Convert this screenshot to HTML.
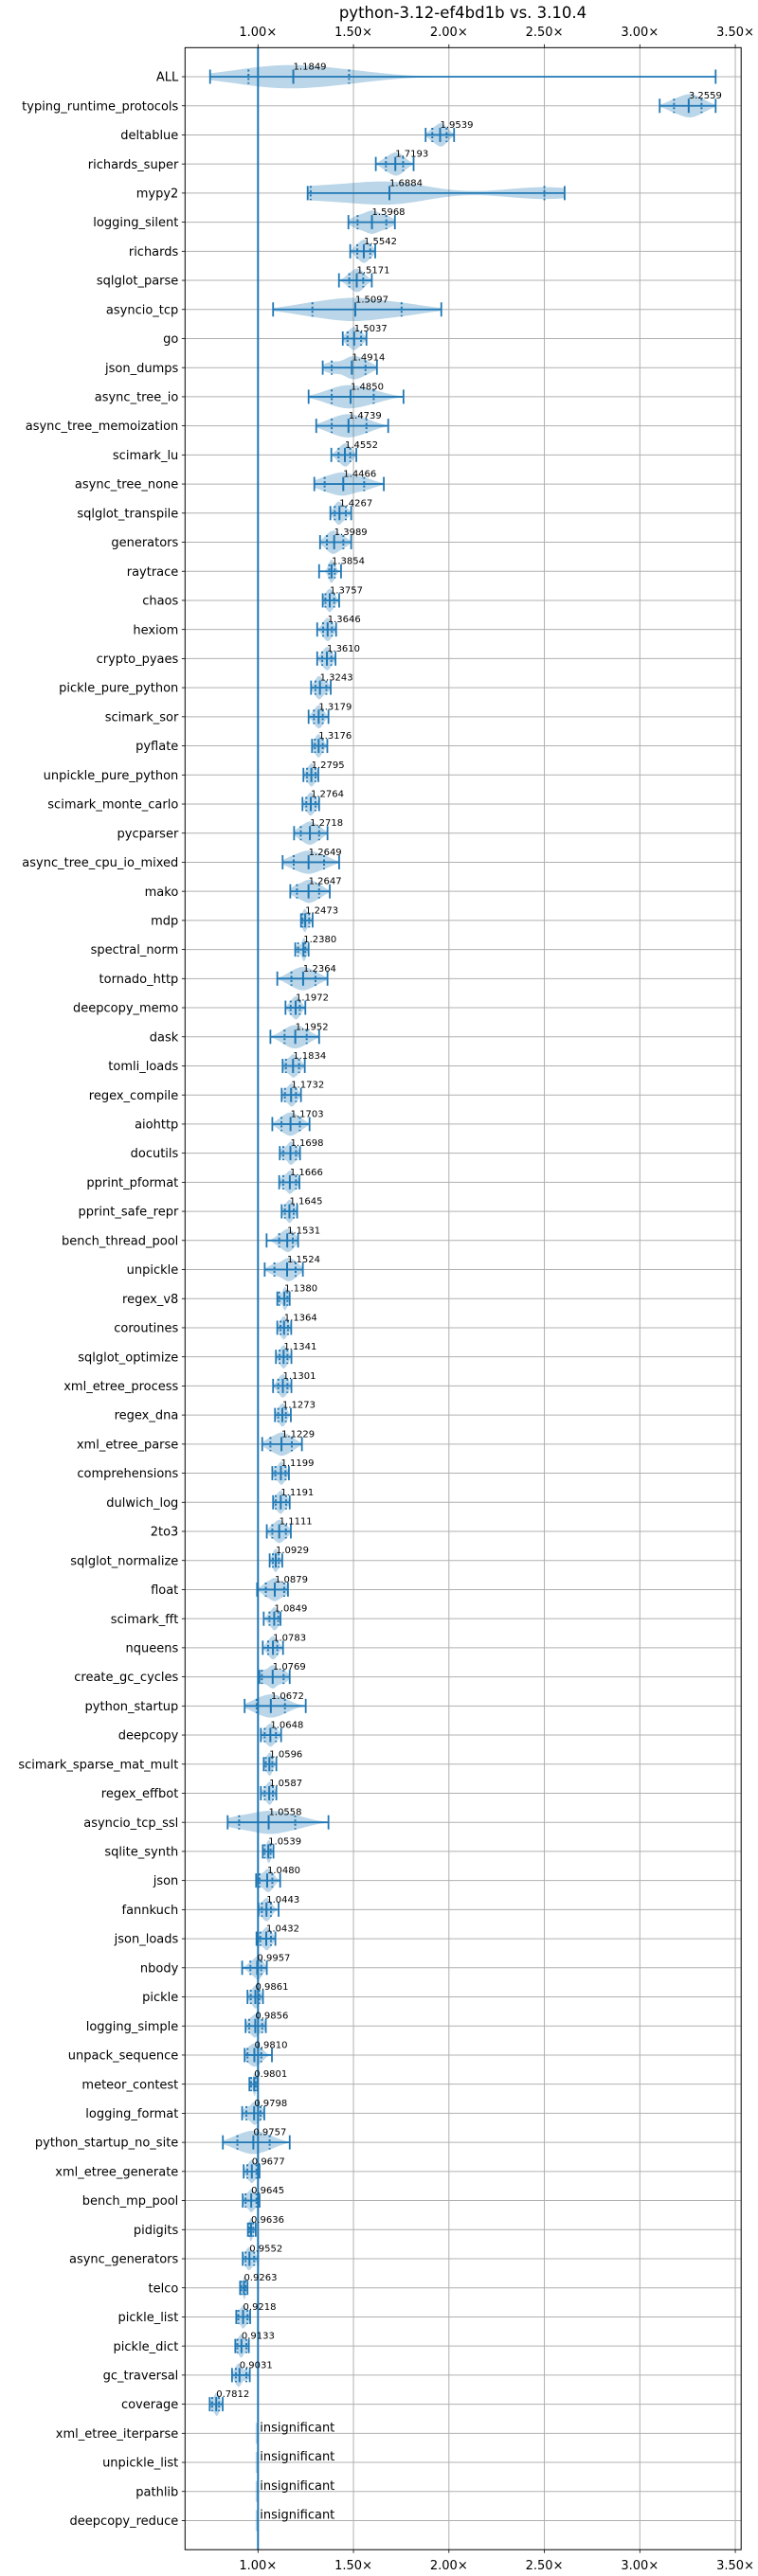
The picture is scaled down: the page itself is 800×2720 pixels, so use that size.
<!DOCTYPE html>
<html><head><meta charset="utf-8"><style>
body{margin:0;background:#fff}
svg{display:block;font-family:"DejaVu Sans","Liberation Sans",sans-serif}
</style></head><body>
<svg id="chart" width="800" height="2720" viewBox="0 0 800 2720" xmlns="http://www.w3.org/2000/svg">
<rect width="800" height="2720" fill="#fff"/>
<text x="488.5" y="19" text-anchor="middle" font-size="16.5" fill="#000">python-3.12-ef4bd1b vs. 3.10.4</text>
<g id="grid"></g><g id="marks"></g><g id="axes"></g>
</svg>
<script>
const names=["ALL","typing_runtime_protocols","deltablue","richards_super","mypy2","logging_silent","richards","sqlglot_parse","asyncio_tcp","go","json_dumps","async_tree_io","async_tree_memoization","scimark_lu","async_tree_none","sqlglot_transpile","generators","raytrace","chaos","hexiom","crypto_pyaes","pickle_pure_python","scimark_sor","pyflate","unpickle_pure_python","scimark_monte_carlo","pycparser","async_tree_cpu_io_mixed","mako","mdp","spectral_norm","tornado_http","deepcopy_memo","dask","tomli_loads","regex_compile","aiohttp","docutils","pprint_pformat","pprint_safe_repr","bench_thread_pool","unpickle","regex_v8","coroutines","sqlglot_optimize","xml_etree_process","regex_dna","xml_etree_parse","comprehensions","dulwich_log","2to3","sqlglot_normalize","float","scimark_fft","nqueens","create_gc_cycles","python_startup","deepcopy","scimark_sparse_mat_mult","regex_effbot","asyncio_tcp_ssl","sqlite_synth","json","fannkuch","json_loads","nbody","pickle","logging_simple","unpack_sequence","meteor_contest","logging_format","python_startup_no_site","xml_etree_generate","bench_mp_pool","pidigits","async_generators","telco","pickle_list","pickle_dict","gc_traversal","coverage","xml_etree_iterparse","unpickle_list","pathlib","deepcopy_reduce"];
const medians=[1.1849,3.2559,1.9539,1.7193,1.6884,1.5968,1.5542,1.5171,1.5097,1.5037,1.4914,1.4850,1.4739,1.4552,1.4466,1.4267,1.3989,1.3854,1.3757,1.3646,1.3610,1.3243,1.3179,1.3176,1.2795,1.2764,1.2718,1.2649,1.2647,1.2473,1.2380,1.2364,1.1972,1.1952,1.1834,1.1732,1.1703,1.1698,1.1666,1.1645,1.1531,1.1524,1.1380,1.1364,1.1341,1.1301,1.1273,1.1229,1.1199,1.1191,1.1111,1.0929,1.0879,1.0849,1.0783,1.0769,1.0672,1.0648,1.0596,1.0587,1.0558,1.0539,1.0480,1.0443,1.0432,0.9957,0.9861,0.9856,0.9810,0.9801,0.9798,0.9757,0.9677,0.9645,0.9636,0.9552,0.9263,0.9218,0.9133,0.9031,0.7812,null,null,null,null];
const mins=[0.749,3.104,1.878,1.617,1.26,1.4735,1.483,1.424,1.079,1.444,1.339,1.265,1.305,1.384,1.295,1.379,1.325,1.320,1.339,1.310,1.310,1.278,1.265,1.283,1.238,1.233,1.189,1.129,1.169,1.225,1.195,1.101,1.144,1.065,1.129,1.124,1.075,1.114,1.111,1.124,1.045,1.035,1.101,1.101,1.094,1.079,1.089,1.022,1.075,1.079,1.046,1.061,0.995,1.030,1.025,1.007,0.930,1.015,1.030,1.015,0.841,1.025,0.990,1.003,0.992,0.917,0.945,0.935,0.930,0.955,0.917,0.816,0.925,0.920,0.947,0.920,0.906,0.886,0.881,0.864,0.747,null,null,null,null];
const q1s=[0.95,3.179,1.913,1.67,1.276,1.5215,1.52,1.478,1.285,1.469,1.386,1.386,1.386,1.422,1.349,1.402,1.361,1.373,1.353,1.341,1.336,1.301,1.293,1.298,1.257,1.253,1.224,1.187,1.204,1.233,1.210,1.175,1.171,1.139,1.146,1.141,1.123,1.132,1.132,1.141,1.111,1.086,1.111,1.118,1.113,1.106,1.106,1.065,1.091,1.093,1.075,1.078,1.041,1.060,1.053,1.020,0.993,1.035,1.041,1.035,0.901,1.035,1.008,1.02,1.012,0.960,0.962,0.954,0.945,0.964,0.939,0.892,0.944,0.935,0.954,0.935,0.912,0.897,0.892,0.884,0.760,null,null,null,null];
const q3s=[1.477,3.323,1.988,1.76,2.50,1.672,1.588,1.551,1.752,1.540,1.563,1.606,1.568,1.483,1.556,1.460,1.447,1.402,1.399,1.387,1.384,1.358,1.339,1.339,1.301,1.301,1.320,1.346,1.320,1.268,1.248,1.301,1.219,1.255,1.215,1.199,1.219,1.199,1.199,1.187,1.182,1.197,1.154,1.157,1.154,1.154,1.146,1.177,1.144,1.147,1.146,1.109,1.137,1.106,1.101,1.134,1.141,1.094,1.075,1.078,1.195,1.066,1.075,1.068,1.068,1.017,1.007,1.022,1.017,0.988,1.013,1.061,0.992,0.992,0.975,0.980,0.934,0.945,0.939,0.939,0.796,null,null,null,null];
const maxs=[3.397,3.397,2.027,1.815,2.606,1.717,1.614,1.596,1.960,1.568,1.623,1.762,1.682,1.515,1.659,1.488,1.488,1.435,1.425,1.409,1.406,1.381,1.369,1.363,1.316,1.320,1.364,1.425,1.376,1.286,1.265,1.364,1.248,1.320,1.245,1.225,1.270,1.220,1.217,1.205,1.210,1.235,1.166,1.174,1.175,1.175,1.172,1.230,1.162,1.166,1.172,1.127,1.157,1.118,1.131,1.166,1.250,1.121,1.096,1.096,1.369,1.081,1.116,1.108,1.091,1.046,1.026,1.041,1.073,0.998,1.033,1.166,1.008,1.008,0.988,1.000,0.945,0.959,0.952,0.957,0.815,null,null,null,null];
const xTicks=[1.0,1.5,2.0,2.5,3.0,3.5];

const NS="http://www.w3.org/2000/svg";
const X0=195.3,X1=782.2,Y0=50.3,Y1=2692.2;
function xS(v){return 272.3+(v-1)*201.5;}
function yS(i){return 81+i*30.72;}
function mk(tag,attrs,parent){const e=document.createElementNS(NS,tag);for(const k in attrs)e.setAttribute(k,attrs[k]);parent.appendChild(e);return e;}
const grid=document.getElementById('grid'),marks=document.getElementById('marks'),axes=document.getElementById('axes');
const BLUE="#1f77b4";
xTicks.forEach(t=>{
  const g=mk('line',{x1:xS(t),x2:xS(t),y1:Y0,y2:Y1,stroke:"#b0b0b0","stroke-width":1},grid);
  
  
  [[Y0,Y0-3.5,38],[Y1,Y1+3.5,2713]].forEach(([a,b,ty])=>{
    const tk=mk('line',{x1:xS(t),x2:xS(t),y1:a,y2:b,stroke:"#000","stroke-width":0.8},axes);
    
    
    const tl=mk('text',{x:xS(t),y:ty,"text-anchor":"middle","font-size":13,fill:"#000"},axes);
    tl.textContent=t.toFixed(2)+"\u00d7";
    
    
  });
});
names.forEach((n,i)=>{
  const y=yS(i);
  const gl=mk('line',{x1:X0,x2:X1,y1:y,y2:y,stroke:"#b0b0b0","stroke-width":1},grid);
  
  
  const tk=mk('line',{x1:X0-3.5,x2:X0,y1:y,y2:y,stroke:"#000","stroke-width":0.8},axes);
  
  
  const lb=mk('text',{x:X0-7,y:y+4.6,"text-anchor":"end","font-size":13,fill:"#000"},axes);
  lb.textContent=n;
  
  
});
const frame=mk('rect',{x:X0,y:Y0,width:X1-X0,height:Y1-Y0,fill:"none",stroke:"#000","stroke-width":1},axes);


const base=mk('line',{x1:xS(1),x2:xS(1),y1:Y0,y2:Y1,stroke:BLUE,"stroke-width":2},marks);



const H=12.3;
names.forEach((n,i)=>{
  const y=yS(i);
  const med=medians[i];
  if(med===null){
    const s=mk('rect',{x:xS(1)-2.5,y:y-11,width:3,height:22,fill:BLUE,"fill-opacity":0.3},marks);
    
    
    const t=mk('text',{x:xS(1)+2,y:y-2,"font-size":13,fill:"#000"},marks);
    t.textContent="insignificant";
    
    
    return;
  }
  const lo=mins[i],hi=maxs[i],a=q1s[i],b=q3s[i];
  const bw=Math.max(0.004,Math.min((b-a)*0.38,(hi-lo)*0.15));
  const centers=[[a,0.55],[med,1],[b,0.55]];
  const N=100,pts=[];let mx=0;
  for(let k=0;k<=N;k++){const v=lo+(hi-lo)*k/N;let d=0;centers.forEach(c=>{d+=c[1]*Math.exp(-0.5*((v-c[0])/bw)**2);});pts.push([v,d]);if(d>mx)mx=d;}
  let dpath="M"+pts.map(p=>xS(p[0]).toFixed(2)+","+(y-H*p[1]/mx).toFixed(2)).join("L");
  dpath+="L"+pts.slice().reverse().map(p=>xS(p[0]).toFixed(2)+","+(y+H*p[1]/mx).toFixed(2)).join("L")+"Z";
  const vp=mk('path',{d:dpath,fill:BLUE,"fill-opacity":0.3,stroke:"none"},marks);
  
  
  const wl=mk('line',{x1:xS(lo),x2:xS(hi),y1:y,y2:y,stroke:BLUE,"stroke-width":1.8},marks);
  
  
  [lo,hi].forEach(v=>{
    const c=mk('line',{x1:xS(v),x2:xS(v),y1:y-7.5,y2:y+7.5,stroke:BLUE,"stroke-width":1.8},marks);
    
    
  });
  const m=mk('line',{x1:xS(med),x2:xS(med),y1:y-7.5,y2:y+7.5,stroke:BLUE,"stroke-width":2},marks);
  
  
  [a,b].forEach(v=>{
    const q=mk('line',{x1:xS(v),x2:xS(v),y1:y-7.5,y2:y+7.5,stroke:BLUE,"stroke-width":2,"stroke-dasharray":"2,2.5"},marks);
    
    
  });
  const t=mk('text',{x:xS(med),y:y-7.5,"font-size":10,fill:"#000"},marks);
  t.textContent=med.toFixed(4);
  
  
});
</script>
</body></html>
